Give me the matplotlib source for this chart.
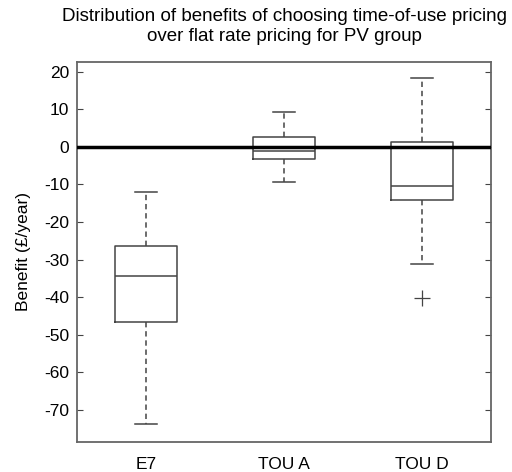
import matplotlib
matplotlib.use("Agg")
from matplotlib import pyplot as plt

plt.rcParams['font.family'] = ['Liberation Sans', 'DejaVu Sans']
plt.rcParams['axes.unicode_minus'] = False

# box statistics (benefit in pounds per year)
groups = ["E7", "TOU A", "TOU D"]
whisker_low = [-73.7, -9.5, -31.2]
q1 = [-46.7, -3.2, -14.2]
median = [-34.3, -1.1, -10.5]
q3 = [-26.3, 2.7, 1.4]
whisker_high = [-12.0, 9.3, 18.3]
outliers = [[], [], [-40.3]]

stats = []
for i in range(len(groups)):
    stats.append({
        "label": groups[i],
        "whislo": whisker_low[i],
        "q1": q1[i],
        "med": median[i],
        "q3": q3[i],
        "whishi": whisker_high[i],
        "fliers": outliers[i],
    })

fig = plt.figure(figsize=(5.12, 4.72), dpi=100)
ax = fig.add_axes([0.151, 0.064, 0.808, 0.805])

line_col = "#444444"
ax.bxp(stats, positions=[1, 2, 3], widths=0.45, capwidths=0.16,
       boxprops=dict(color=line_col, linewidth=1.1),
       medianprops=dict(color=line_col, linewidth=1.1),
       whiskerprops=dict(color=line_col, linewidth=1.1, linestyle=(0, (3.5, 2.5))),
       capprops=dict(color=line_col, linewidth=1.1),
       flierprops=dict(marker="+", markeredgecolor=line_col, markersize=11,
                       markeredgewidth=0.9))

ax.axhline(0, color="black", linewidth=2.5, zorder=5)

ax.set_xlim(0.5, 3.5)
ax.set_ylim(-78.5, 22.6)
ax.set_yticks(range(-70, 21, 10))
ax.tick_params(axis="y", direction="in", right=True, length=4, labelsize=12.5,
               color=line_col, pad=6)
ax.tick_params(axis="x", length=0, labelsize=12.5, pad=11)
for s in ax.spines.values():
    s.set_color("#666666")
    s.set_linewidth(1.3)

ax.set_ylabel("Benefit (\u00a3/year)", fontsize=12.5, labelpad=9)
ax.set_title("Distribution of benefits of choosing time-of-use pricing\n"
             "over flat rate pricing for PV group", fontsize=13.5, pad=15,
             linespacing=1.25)

plt.savefig("out.png", dpi=100)
